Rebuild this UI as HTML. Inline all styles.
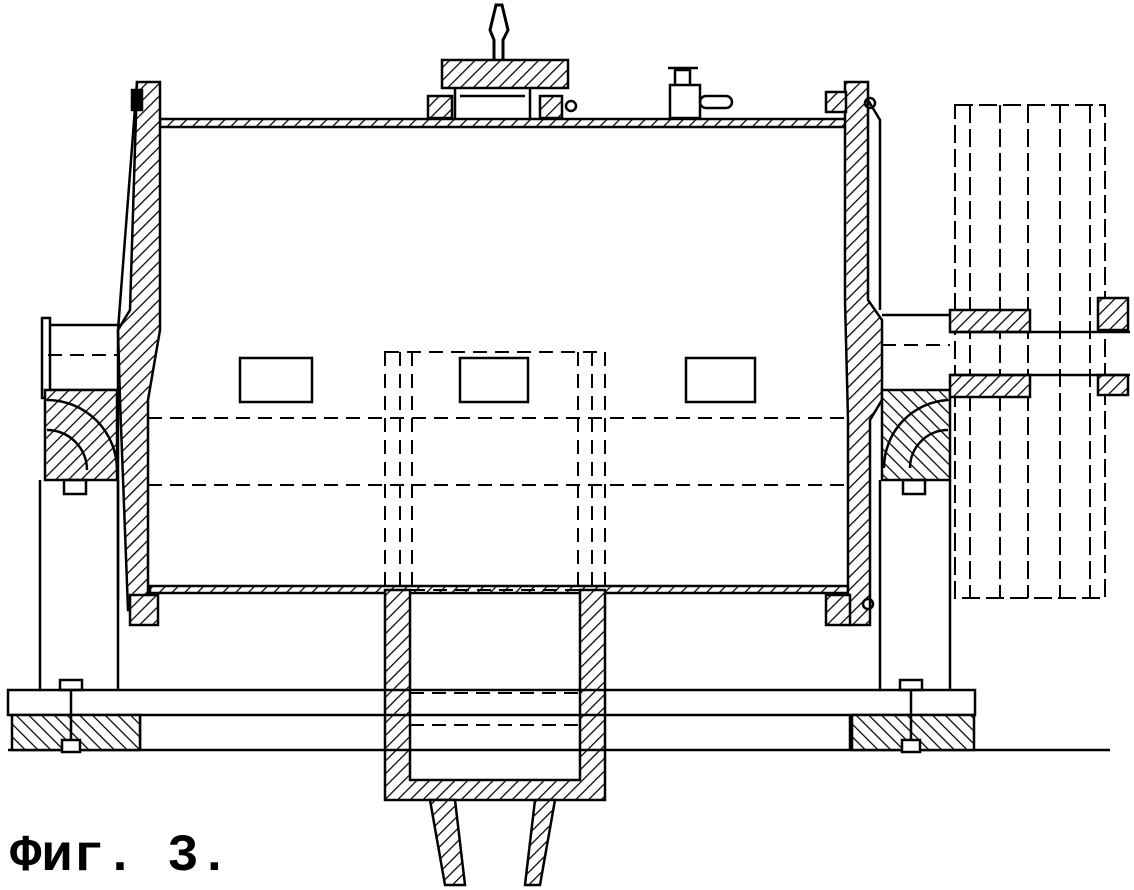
<!DOCTYPE html>
<html><head><meta charset="utf-8"><style>
html,body{margin:0;padding:0;background:#fff;}
svg{display:block}
</style></head><body>
<svg width="1134" height="890" viewBox="0 0 1134 890" xmlns="http://www.w3.org/2000/svg">
<defs>
<pattern id="h" width="9" height="9" patternUnits="userSpaceOnUse" patternTransform="rotate(45)">
<rect width="9" height="9" fill="#fff"/><line x1="0" y1="0" x2="0" y2="9" stroke="#000" stroke-width="2.5"/></pattern>
<pattern id="h2" width="9" height="9" patternUnits="userSpaceOnUse" patternTransform="rotate(-45)">
<rect width="9" height="9" fill="#fff"/><line x1="0" y1="0" x2="0" y2="9" stroke="#000" stroke-width="2.5"/></pattern>
</defs>
<g fill="none" stroke="#000" stroke-width="2.5">
<rect x="160" y="119" width="688" height="8" fill="url(#h)"/>
<rect x="150" y="586" width="698" height="7" fill="url(#h)"/>
<path d="M137 82 L160 82 L160 330 L148 400 L148 610 L128 610 L120 400 L118 330 L130 310 Z" fill="url(#h)"/>
<path d="M137 82 L118 330 L118 600" />
<rect x="132" y="90" width="10" height="20" fill="#000"/>
<rect x="130" y="595" width="28" height="30" fill="url(#h)"/>
<path d="M845 82 L868 82 L868 300 L882 320 L882 400 L870 420 L870 625 L848 625 L848 420 L845 300 Z" fill="url(#h)"/>
<path d="M868 100 L880 120 L880 310"/>
<rect x="826" y="92" width="20" height="20" fill="url(#h)"/>
<rect x="826" y="595" width="24" height="30" fill="url(#h)"/>
<circle cx="870" cy="103" r="5"/><circle cx="868" cy="604" r="5"/>
<rect x="442" y="60" width="126" height="28" fill="url(#h)"/>
<rect x="428" y="96" width="24" height="22" fill="url(#h)"/>
<rect x="540" y="96" width="22" height="22" fill="url(#h)"/>
<path d="M455 88 L455 118 M530 88 L530 118 M460 96 L525 96"/>
<path d="M494 60 L494 40 L490 30 L496 5 L502 5 L508 30 L503 40 L503 60" stroke-width="3"/>
<circle cx="571" cy="106" r="5"/>
<rect x="670" y="85" width="30" height="33"/>
<path d="M675 85 L675 70 L690 70 L690 85 M668 68 L698 68"/>
<rect x="700" y="96" width="32" height="12" rx="6"/>
<rect x="240" y="358" width="72" height="44"/>
<rect x="460" y="358" width="68" height="44"/>
<rect x="686" y="358" width="69" height="44"/>
<g stroke-dasharray="14 8" stroke-width="2">
<line x1="148" y1="418" x2="845" y2="418"/>
<line x1="148" y1="485" x2="845" y2="485"/>
<line x1="48" y1="355" x2="118" y2="355"/>
<line x1="882" y1="345" x2="950" y2="345"/>
<rect x="385" y="352" width="220" height="238"/>
<line x1="400" y1="352" x2="400" y2="590"/>
<line x1="412" y1="352" x2="412" y2="590"/>
<line x1="578" y1="352" x2="578" y2="590"/>
<line x1="592" y1="352" x2="592" y2="590"/>
<line x1="410" y1="693" x2="580" y2="693"/>
<line x1="410" y1="725" x2="580" y2="725"/>
<line x1="410" y1="750" x2="530" y2="750"/>
</g>
<path d="M385 590 L385 800 L605 800 L605 590 L580 590 L580 780 L410 780 L410 590 Z" fill="url(#h)"/>
<path d="M430 800 L455 800 L465 885 L445 885 Z" fill="url(#h)"/>
<path d="M535 800 L555 800 L540 885 L525 885 Z" fill="url(#h)"/>
<rect x="42" y="318" width="8" height="80"/>
<path d="M50 325 L120 325 M50 390 L120 390"/>
<rect x="45" y="390" width="72" height="90" fill="url(#h)"/>
<path d="M47 400 A70 70 0 0 1 117 470" />
<path d="M47 430 A40 40 0 0 1 87 470" />
<path d="M40 480 L40 690 M118 480 L118 690"/>
<rect x="64" y="480" width="22" height="14"/>
<path d="M882 315 L950 315 M882 395 L950 395"/>
<rect x="882" y="390" width="68" height="90" fill="url(#h2)"/>
<path d="M948 400 A68 68 0 0 0 884 468"/>
<path d="M948 430 A38 38 0 0 0 910 468"/>
<path d="M880 480 L880 690 M950 480 L950 690"/>
<rect x="903" y="480" width="22" height="14"/>
<g stroke-dasharray="18 6" stroke-width="2">
<rect x="955" y="105" width="150" height="493"/>
<line x1="970" y1="105" x2="970" y2="598"/>
<line x1="1000" y1="105" x2="1000" y2="598"/>
<line x1="1028" y1="105" x2="1028" y2="598"/>
<line x1="1060" y1="105" x2="1060" y2="598"/>
<line x1="1090" y1="105" x2="1090" y2="598"/>
</g>
<rect x="950" y="310" width="80" height="22" fill="url(#h)"/>
<rect x="950" y="375" width="80" height="22" fill="url(#h)"/>
<rect x="1098" y="298" width="30" height="32" fill="url(#h)"/>
<rect x="1098" y="375" width="30" height="20" fill="url(#h)"/>
<path d="M950 332 L1130 332 M950 375 L1130 375"/>
<rect x="8" y="690" width="967" height="25"/>
<path d="M140 715 L140 750 M850 715 L850 750 M8 750 L1110 750"/>
<rect x="12" y="715" width="128" height="35" fill="url(#h2)"/>
<rect x="852" y="715" width="122" height="35" fill="url(#h2)"/>
<rect x="60" y="680" width="22" height="10"/><rect x="62" y="740" width="18" height="12" fill="#fff"/>
<rect x="900" y="680" width="22" height="10"/><rect x="902" y="740" width="18" height="12" fill="#fff"/>
<line x1="71" y1="690" x2="71" y2="740"/><line x1="911" y1="690" x2="911" y2="740"/>
</g>
<text x="10" y="870" font-family="Liberation Mono, monospace" font-weight="bold" font-size="52" textLength="220" lengthAdjust="spacingAndGlyphs" fill="#000">Фиг. 3.</text>
</svg>
</body></html>
